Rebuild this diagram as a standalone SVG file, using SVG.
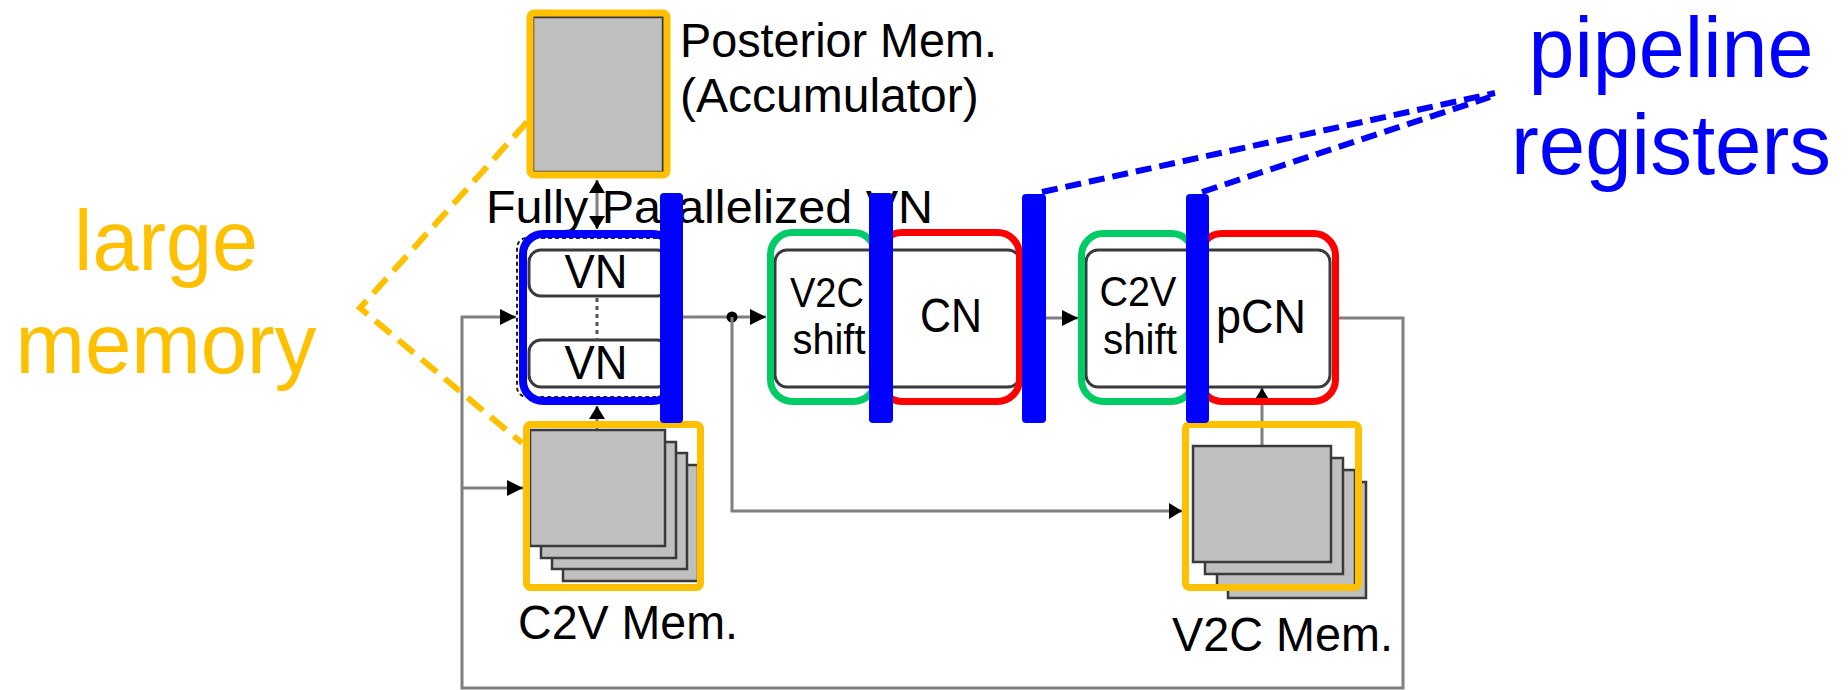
<svg xmlns="http://www.w3.org/2000/svg" width="1848" height="690" viewBox="0 0 1848 690">
<style>
.t{font-family:"Liberation Sans",Arial,sans-serif;fill:#000}
.big{font-family:"Liberation Sans",Arial,sans-serif;font-size:86px}
.conn{fill:none;stroke:#7f7f7f;stroke-width:3}
.box{fill:#fff;stroke:#3a3a3a;stroke-width:3}
.mem{fill:#bfbfbf;stroke:#3a3a3a;stroke-width:2.5}
.ylw{fill:none;stroke:#FFC000;stroke-width:7}
.grn{fill:none;stroke:#00CC66;stroke-width:7}
.red{fill:none;stroke:#FF0000;stroke-width:7}
.reg{fill:#0000FF}
.ydash{fill:none;stroke:#FFC000;stroke-width:6;stroke-dasharray:20 10}
.bdash{fill:none;stroke:#0000FF;stroke-width:6;stroke-dasharray:16 8}
</style>
<defs>
<marker id="ah" markerUnits="userSpaceOnUse" markerWidth="16" markerHeight="16" refX="16" refY="8" orient="auto-start-reverse" viewBox="0 0 16 16">
<path d="M0,0 L16,8 L0,16 z" fill="#000"/>
</marker>
<marker id="ahs" markerUnits="userSpaceOnUse" markerWidth="13" markerHeight="16" refX="13" refY="8" orient="auto-start-reverse" viewBox="0 0 13 16">
<path d="M0,0 L13,8 L0,16 z" fill="#000"/>
</marker>
</defs>
<rect width="1848" height="690" fill="#fff"/>

<g id="connectors">
<path class="conn" d="M1336 318 H1403 V688 H462 V317 H516" marker-end="url(#ah)"/>
<path class="conn" d="M462 488 H523" marker-end="url(#ah)"/>
<path class="conn" d="M683 317 H766" marker-end="url(#ah)"/>
<circle cx="732" cy="317" r="5.5" fill="#000"/>
<path class="conn" d="M732 317 V511 H1182" marker-end="url(#ahs)"/>
<path class="conn" d="M1046 318 H1078" marker-end="url(#ah)"/>
<path class="conn" d="M1262 446 V388" marker-end="url(#ahs)"/>
<path class="conn" d="M597 430 V406" marker-end="url(#ahs)"/>
<path class="conn" d="M597 180 V229" marker-start="url(#ahs)" marker-end="url(#ahs)"/>
</g>

<g id="posterior-mem">
<rect x="533" y="17" width="130" height="155" class="mem"/>
<rect x="530" y="13" width="137" height="162" rx="4" class="ylw" stroke-width="8"/>
<text class="t" x="680" y="57" font-size="48" textLength="317" lengthAdjust="spacingAndGlyphs">Posterior Mem.</text>
<text class="t" x="680" y="112" font-size="48">(Accumulator)</text>
</g>

<g id="vn-group">
<text class="t" x="486" y="223" font-size="46" textLength="447" lengthAdjust="spacingAndGlyphs">Fully Parallelized VN</text>
<rect x="517" y="238" width="150" height="159" rx="10" fill="none" stroke="#222" stroke-width="2" stroke-dasharray="4 3"/>
<rect x="529" y="250" width="140" height="46" rx="12" class="box"/>
<rect x="529" y="340" width="140" height="47" rx="12" class="box"/>
<line x1="597" y1="298" x2="597" y2="340" stroke="#555" stroke-width="3" stroke-dasharray="4 4"/>
<text class="t" x="596" y="288" font-size="48" text-anchor="middle" textLength="63" lengthAdjust="spacingAndGlyphs">VN</text>
<text class="t" x="596" y="379" font-size="48" text-anchor="middle" textLength="63" lengthAdjust="spacingAndGlyphs">VN</text>
<rect x="523" y="234" width="150" height="167" rx="20" fill="none" stroke="#0000FF" stroke-width="8"/>
</g>

<g id="v2c-cn">
<rect x="775" y="250" width="245" height="137" rx="12" class="box"/>
<rect x="770.5" y="232.5" width="105" height="169" rx="22" class="grn"/>
<rect x="880" y="232.5" width="139.5" height="169" rx="22" class="red"/>
<text class="t" x="827" y="307" font-size="43" text-anchor="middle" textLength="74" lengthAdjust="spacingAndGlyphs">V2C</text>
<text class="t" x="829" y="354" font-size="43" text-anchor="middle" textLength="73" lengthAdjust="spacingAndGlyphs">shift</text>
<text class="t" x="951" y="332" font-size="49" text-anchor="middle" textLength="62" lengthAdjust="spacingAndGlyphs">CN</text>
</g>

<g id="c2v-pcn">
<rect x="1086" y="250" width="244" height="137" rx="12" class="box"/>
<rect x="1081.5" y="233.5" width="112" height="168" rx="22" class="grn"/>
<rect x="1200" y="233.5" width="135.5" height="168" rx="22" class="red"/>
<text class="t" x="1138" y="306" font-size="43" text-anchor="middle" textLength="77" lengthAdjust="spacingAndGlyphs">C2V</text>
<text class="t" x="1140" y="354" font-size="43" text-anchor="middle" textLength="74" lengthAdjust="spacingAndGlyphs">shift</text>
<text class="t" x="1261" y="333" font-size="49" text-anchor="middle" textLength="90" lengthAdjust="spacingAndGlyphs">pCN</text>
</g>

<g id="c2v-mem">
<rect x="563" y="465" width="135" height="116" class="mem"/>
<rect x="552" y="453" width="135" height="116" class="mem"/>
<rect x="541" y="442" width="135" height="116" class="mem"/>
<rect x="530" y="430" width="135" height="116" class="mem"/>
<rect x="526.5" y="424.5" width="174" height="163" rx="4" class="ylw"/>
<text class="t" x="518" y="639" font-size="48" textLength="220" lengthAdjust="spacingAndGlyphs">C2V Mem.</text>
</g>

<g id="v2c-mem">
<rect x="1228" y="482" width="138" height="116" class="mem"/>
<rect x="1217" y="470" width="138" height="116" class="mem"/>
<rect x="1205" y="458" width="138" height="116" class="mem"/>
<rect x="1193" y="446" width="138" height="116" class="mem"/>
<rect x="1185.5" y="424.5" width="173" height="163" rx="4" class="ylw"/>
<text class="t" x="1172" y="651" font-size="48" textLength="221" lengthAdjust="spacingAndGlyphs">V2C Mem.</text>
</g>

<g id="pipeline-registers">
<rect x="660" y="193" width="23" height="230" rx="4" class="reg"/>
<rect x="869" y="193" width="24" height="230" rx="4" class="reg"/>
<rect x="1022" y="194" width="24" height="229" rx="4" class="reg"/>
<rect x="1186" y="194" width="23" height="229" rx="4" class="reg"/>
</g>

<g id="annotations">
<path class="ydash" d="M527 122 L360 308 L522 443"/>
<text class="big" x="166" y="270" fill="#FFC000" text-anchor="middle" textLength="184" lengthAdjust="spacingAndGlyphs">large</text>
<text class="big" x="166" y="373" fill="#FFC000" text-anchor="middle" textLength="301" lengthAdjust="spacingAndGlyphs">memory</text>
<path class="bdash" d="M1042 192 L1495 93"/>
<path class="bdash" d="M1202 192 L1490 97"/>
<text class="big" x="1671" y="77" fill="#0000FF" font-size="83" text-anchor="middle" textLength="285" lengthAdjust="spacingAndGlyphs">pipeline</text>
<text class="big" x="1671" y="174" fill="#0000FF" text-anchor="middle" textLength="320" lengthAdjust="spacingAndGlyphs">registers</text>
</g>
</svg>
